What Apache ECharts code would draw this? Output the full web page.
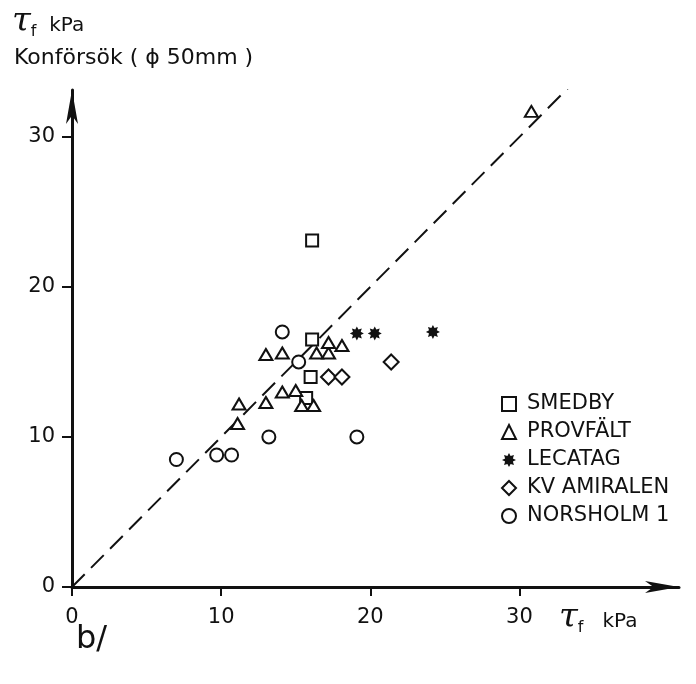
<!DOCTYPE html>
<html>
<head>
<meta charset="utf-8">
<script src="https://cdn.jsdelivr.net/npm/echarts@6/dist/echarts.min.js"></script>
<style>
  html, body { margin: 0; padding: 0; background: #fff; }
  #chart { width: 696px; height: 684px; }
</style>
</head>
<body>
<div id="chart"></div>
<script>
// Shear strength: field vane (x) vs. cone test, phi 50 mm (y), in kPa
const seriesNames = ['SMEDBY', 'PROVFÄLT', 'LECATAG', 'KV AMIRALEN', 'NORSHOLM 1'];

const smedby = [[16.1, 23.1], [16.1, 16.5], [16.0, 14.0], [15.7, 12.6]];
const provfalt = [
  [30.8, 31.7], [13.0, 15.5], [14.1, 15.6], [16.4, 15.6], [17.2, 15.6],
  [17.2, 16.3], [18.1, 16.1], [11.2, 12.2], [11.1, 10.9], [13.0, 12.3],
  [14.1, 13.0], [15.0, 13.1], [15.4, 12.1], [16.2, 12.1]
];
const lecatag = [[19.1, 16.9], [20.3, 16.9], [24.2, 17.0]];
const kvAmiralen = [[17.2, 14.0], [18.1, 14.0], [21.4, 15.0]];
const norsholm = [[14.1, 17.0], [15.2, 15.0], [7.0, 8.5], [9.7, 8.8], [10.7, 8.8], [13.2, 10.0], [19.1, 10.0]];

// 1:1 reference line
const equalityLine = [[0, 0], [33.3, 33.3]];

const tickValues = [0, 10, 20, 30];

// eight-pointed filled star used for LECATAG
function starPath(points, inner) {
  let d = '';
  for (let i = 0; i < points * 2; i++) {
    const r = i % 2 === 0 ? 1 : inner;
    const a = Math.PI * i / points - Math.PI / 2;
    const x = (50 + 50 * r * Math.cos(a)).toFixed(2);
    const y = (50 + 50 * r * Math.sin(a)).toFixed(2);
    d += (i === 0 ? 'M' : 'L') + x + ' ' + y + ' ';
  }
  return 'path://' + d + 'Z';
}

const FONT = 'DejaVu Sans';
const INK = '#111';
const openStyle = { color: '#fff', borderColor: INK, borderWidth: 2, opacity: 1 };

const tauRich = {
  t: { fontSize: 34, fontFamily: 'DejaVu Serif', fontStyle: 'italic', fill: INK },
  s: { fontSize: 16, fontFamily: FONT, fill: INK, padding: [20, 0, 0, 0] },
  u: { fontSize: 20, fontFamily: FONT, fill: INK, padding: [8, 0, 0, 0] }
};

const chart = echarts.init(document.getElementById('chart'), null, { renderer: 'canvas' });

chart.setOption({
  animation: false,
  backgroundColor: '#fff',
  textStyle: { fontFamily: FONT, color: INK },
  grid: { left: 72, top: 90, width: 607, height: 497, containLabel: false, outerBoundsMode: 'none' },
  xAxis: {
    type: 'value', min: 0, max: 40.7,
    splitLine: { show: false },
    axisLine: { onZero: false, lineStyle: { color: INK, width: 3 }, symbol: ['none', 'arrow'], symbolSize: [9, 34] },
    axisTick: { customValues: tickValues, length: 9, lineStyle: { color: INK, width: 2 } },
    axisLabel: { customValues: tickValues, margin: 20, fontSize: 21, color: INK, fontFamily: FONT }
  },
  yAxis: {
    type: 'value', min: 0, max: 33.13,
    splitLine: { show: false },
    axisLine: { onZero: false, lineStyle: { color: INK, width: 3 }, symbol: ['none', 'arrow'], symbolSize: [9, 34] },
    axisTick: { customValues: tickValues, length: 10, lineStyle: { color: INK, width: 2 } },
    axisLabel: { customValues: tickValues, margin: 17, fontSize: 21, color: INK, fontFamily: FONT }
  },
  legend: {
    data: seriesNames,
    orient: 'vertical',
    left: 496, top: 385,
    itemWidth: 14, itemHeight: 14, itemGap: 0,
    textStyle: { fontSize: 21, lineHeight: 28, fontFamily: FONT, color: INK, padding: [0, 0, 0, 6] }
  },
  graphic: [
    {
      type: 'text', left: 12, top: 5,
      style: { text: '{t|τ}{s|f}{u|  kPa}', rich: tauRich }
    },
    {
      type: 'text', left: 14, top: 47,
      style: { text: 'Konförsök ( ϕ 50mm )', fontSize: 22, fontFamily: FONT, fill: INK }
    },
    {
      type: 'text', left: 559, top: 601,
      style: { text: '{t|τ}{s|f}{u|   kPa}', rich: tauRich }
    },
    {
      type: 'text', left: 76, top: 624,
      style: { text: 'b/', fontSize: 32, fontFamily: FONT, fill: INK }
    }
  ],
  series: [
    {
      type: 'line', data: equalityLine, showSymbol: false, silent: true,
      lineStyle: { color: INK, width: 2, type: [18, 9] }, z: 1
    },
    { name: 'SMEDBY', type: 'scatter', data: smedby, symbol: 'rect', symbolSize: 12, itemStyle: openStyle, z: 3 },
    { name: 'PROVFÄLT', type: 'scatter', data: provfalt, symbol: 'triangle', symbolSize: [13, 11], itemStyle: openStyle, z: 3 },
    { name: 'LECATAG', type: 'scatter', data: lecatag, symbol: starPath(8, 0.6), symbolSize: 14, itemStyle: { color: INK, opacity: 1 }, z: 3 },
    { name: 'KV AMIRALEN', type: 'scatter', data: kvAmiralen, symbol: 'diamond', symbolSize: 15, itemStyle: openStyle, z: 3 },
    { name: 'NORSHOLM 1', type: 'scatter', data: norsholm, symbol: 'circle', symbolSize: 13, itemStyle: openStyle, z: 3 }
  ]
});
</script>
</body>
</html>
